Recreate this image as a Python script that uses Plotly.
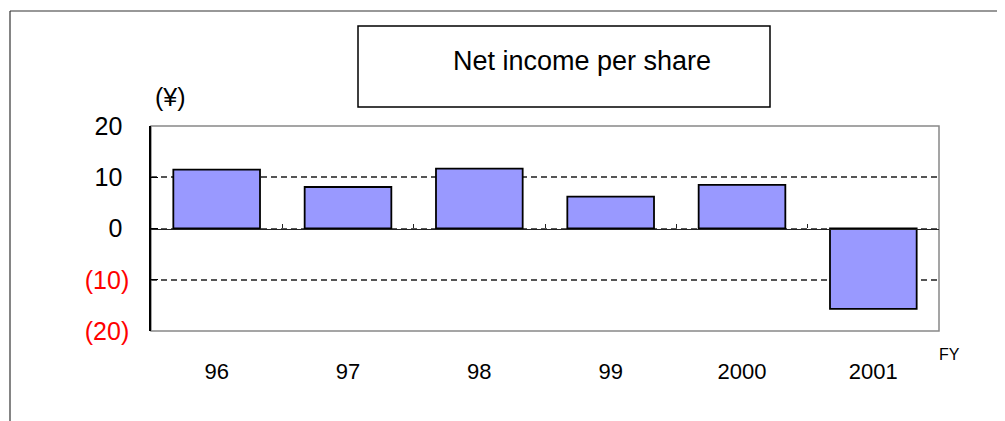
import plotly.graph_objects as go

# ---- data ----
years = ["96", "97", "98", "99", "2000", "2001"]
eps = [11.5, 8.1, 11.7, 6.2, 8.5, -15.7]
y_tickvals = [-20, -10, 0, 10, 20]
y_ticktext = ['<span style="color:#FF0000">(20)</span>',
              '<span style="color:#FF0000">(10)</span>',
              "0\u00a0", "10\u00a0", "20\u00a0"]
title_text = "Net income per share"
unit_text = "(¥)"
fy_text = "FY"

# ---- layout geometry (page pixels; page body has an 8px margin) ----
OFF = 8
W, H = 1005 - OFF, 421 - OFF
L, R, T, B = 151 - OFF, 939 - OFF, 126 - OFF, 331 - OFF
pw, ph = R - L, B - T


def px(x):
    return (x - OFF - L) / pw


def py(y):
    return (B - (y - OFF)) / ph


FONT = "Liberation Sans, Arial, sans-serif"

fig = go.Figure()
fig.add_trace(go.Bar(
    x=years, y=eps,
    marker=dict(color="#9999FF", line=dict(color="#000000", width=1.8)),
    hoverinfo="x+y",
))

shapes = [
    # plot-area border (gray)
    dict(type="rect", xref="paper", yref="paper", x0=0, x1=1, y0=0, y1=1,
         line=dict(color="#888888", width=1.5), layer="below"),
    # outer frame
    dict(type="line", xref="paper", yref="paper", x0=px(10), x1=px(1020),
         y0=py(11), y1=py(11), line=dict(color="#333333", width=1.2)),
    dict(type="line", xref="paper", yref="paper", x0=px(10), x1=px(10),
         y0=py(11), y1=py(440), line=dict(color="#333333", width=1.2)),
    # title box
    dict(type="rect", xref="paper", yref="paper", x0=px(358), x1=px(770),
         y0=py(107), y1=py(26), line=dict(color="#000000", width=1.5),
         fillcolor="white"),
]

annotations = [
    dict(text=title_text, xref="paper", yref="paper", x=px(582), y=py(61),
         xanchor="center", yanchor="middle", showarrow=False,
         font=dict(family=FONT, size=27, color="#000000")),
    dict(text=unit_text, xref="paper", yref="paper", x=px(170), y=py(96.5),
         xanchor="center", yanchor="middle", showarrow=False,
         font=dict(family=FONT, size=25, color="#000000")),
    dict(text=fy_text, xref="paper", yref="paper", x=px(949), y=py(354),
         xanchor="center", yanchor="middle", showarrow=False,
         font=dict(family=FONT, size=16, color="#000000")),
]

fig.update_layout(
    width=W, height=H,
    margin=dict(l=L, r=W - R, t=T, b=H - B, pad=0),
    paper_bgcolor="white", plot_bgcolor="white",
    showlegend=False,
    bargap=0.34,
    font=dict(family=FONT, color="#000000"),
    shapes=shapes,
    annotations=annotations,
    xaxis=dict(
        type="category", range=[-0.5, 5.5],
        showline=False, showgrid=False, zeroline=False,
        ticks="", ticklabelstandoff=25,
        tickfont=dict(family=FONT, size=22, color="#000000"),
    ),
    xaxis2=dict(
        overlaying="x", anchor="free", position=py(228.5), side="bottom",
        range=[-0.5, 5.5], showline=True, linecolor="#222222", linewidth=1.3,
        showgrid=False, zeroline=False,
        tickmode="array", tickvals=[0.5, 1.5, 2.5, 3.5, 4.5],
        ticks="inside", ticklen=4, tickcolor="#222222", tickwidth=1.2,
        showticklabels=False,
    ),
    yaxis=dict(
        range=[-20, 20], tickmode="array", tickvals=y_tickvals, ticktext=y_ticktext,
        showline=True, linecolor="#000000", linewidth=1.5,
        ticks="inside", ticklen=7, tickcolor="#000000", tickwidth=1.2,
        showgrid=True, gridcolor="#555555", gridwidth=1.5, griddash="6px,4px",
        zeroline=False,
        ticklabelstandoff=15,
        tickfont=dict(family=FONT, size=25, color="#000000"),
    ),
)

# empty trace so the overlay axis is drawn
fig.add_trace(go.Scatter(x=[], y=[], xaxis="x2", yaxis="y", showlegend=False))

fig.write_html("out.html")
